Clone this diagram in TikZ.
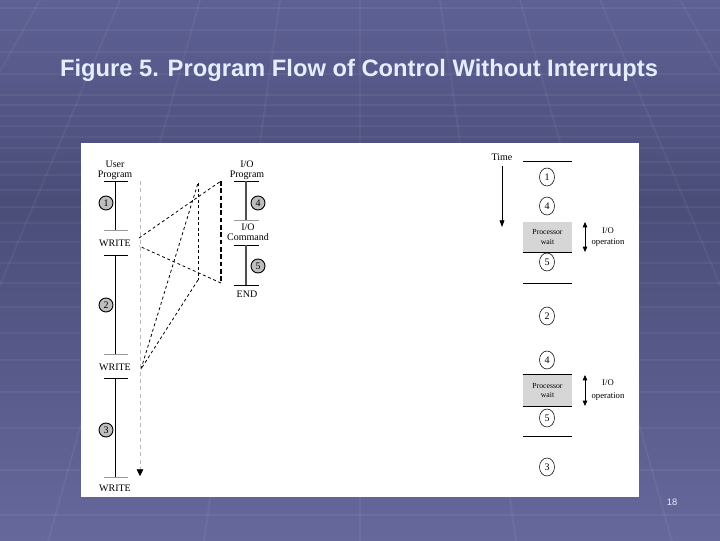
\documentclass[tikz,border=0pt]{standalone}
\usepackage{fontspec}
\setmainfont{Liberation Serif}
\newfontfamily\titlefont{Liberation Sans}
\usetikzlibrary{shapes.geometric,arrows.meta,calc}
\definecolor{bgtop}{HTML}{5E6194}
\definecolor{bgmid}{HTML}{4A4D78}
\definecolor{bgbot}{HTML}{66689C}
\definecolor{titlecol}{HTML}{E4EEFF}
\definecolor{circfill}{HTML}{BEBEBE}
\definecolor{waitfill}{HTML}{D6D6D6}
\definecolor{tickgray}{HTML}{9A9A9A}
\definecolor{iogray}{HTML}{505050}
\begin{document}
\begin{tikzpicture}[x=0.75pt,y=-0.75pt,
  lbl/.style={font=\fontsize{7.5}{7.5}\selectfont, align=center, inner sep=0pt},
  boxtext/.style={font=\fontsize{5.8}{6.8}\selectfont, align=center, inner sep=0pt},
  numc/.style={circle, draw, line width=0.7pt, fill=circfill, minimum size=10.5pt, inner sep=0pt, font=\fontsize{7.5}{7.5}\selectfont},
  tnum/.style={ellipse, draw, line width=0.4pt, minimum width=11.25pt, minimum height=13.5pt, inner sep=0pt, font=\fontsize{7.5}{7.5}\selectfont},
  tickline/.style={line width=0.6pt},
  lighttick/.style={line width=0.6pt, draw=tickgray},
  flowdash/.style={line width=0.6pt, dash pattern=on 2.2pt off 2pt},
  heavydash/.style={line width=1pt, dash pattern=on 3.5pt off 2pt},
  timeline/.style={draw=gray!55, line width=0.6pt, dash pattern=on 3pt off 2.5pt},
  waitbox/.style={fill=waitfill, minimum width=36.75pt, minimum height=22.5pt, inner sep=0pt},
  gridline/.style={white, opacity=0.05, line width=1.4pt}
]
\useasboundingbox (0,0) rectangle (720,540);
% background
\shade[top color=bgtop, bottom color=bgmid] (0,0) rectangle (720,200.5);
\shade[top color=bgmid, bottom color=bgbot] (0,200) rectangle (720,540);
\begin{scope}
\clip (0,0) rectangle (720,540);
\foreach \k in {-9,...,9}{
  \draw[gridline] (360,-570) -- ($(360,-570)!1.95!(360+80*\k,0)$);
}
\foreach \yy in {8,30,52,74,95,105,116,126,137,148,162,175,190,207,223,242,263,283,307,333,360,392,428,470,515}{
  \draw[gridline] (0,\yy) -- (720,\yy);
}
\end{scope}
% white panel
\fill[white] (81,143) rectangle (639,497);
% title
\node[font=\titlefont\bfseries\fontsize{17.8}{18}\selectfont, text=titlecol, anchor=base, inner sep=0pt] (title) at (359,76) {Figure 5. Program Flow of Control Without Interrupts};
% ---------- left: user program ----------
\node[lbl] (userprog) at (115,170) {User\\Program};
\draw[tickline] (104,181) -- (128,181);
\draw[line width=0.5pt] (115,181) -- (115,230);
\draw[lighttick] (104,230) -- (128,230);
\node[lbl] (w1) at (115,243) {WRITE};
\draw[tickline] (104,255) -- (128,255);
\draw[line width=0.5pt] (115,255) -- (115,354);
\draw[lighttick] (104,354) -- (128,354);
\node[lbl] (w2) at (115,367) {WRITE};
\draw[tickline] (104,378) -- (128,378);
\draw[line width=0.5pt] (115,378) -- (115,477);
\draw[lighttick] (104,477) -- (128,477);
\node[lbl] (w3) at (115,488) {WRITE};
\node[numc] (c1) at (106,203) {1};
\node[numc] (c2) at (106,305) {2};
\node[numc] (c3) at (106,430) {3};
% time line (gray dashed)
\coordinate (gtop) at (140,181);
\coordinate (gbot) at (140,476);
\draw[timeline, -{Triangle[length=5pt,width=5pt,color=black]}] (gtop) -- (gbot);
% ---------- I/O program ----------
\node[lbl] (ioprog) at (247,170) {I/O\\Program};
\draw[tickline] (234,181) -- (259,181);
\draw[line width=1.2pt, draw=iogray] (246,181) -- (246,220);
\draw[lighttick] (234,220) -- (259,220);
\node[lbl] (iocmd) at (248,232) {I/O\\Command};
\draw[tickline] (234,245) -- (259,245);
\draw[line width=1.2pt, draw=iogray] (246,245) -- (246,285);
\draw[tickline] (234,285) -- (259,285);
\node[lbl] (ioend) at (247,294) {END};
\node[numc] (c4) at (258,203) {4};
\node[numc] (c5) at (258,266) {5};
% ---------- flow lines ----------
\coordinate (w1a) at (139,238);
\coordinate (w1b) at (139,246);
\coordinate (p1top) at (221,181);
\coordinate (p1bot) at (221,283);
\coordinate (w2a) at (141,369);
\coordinate (p2top) at (198,183);
\coordinate (p2bot) at (198,280);
\draw[flowdash] (w1a) -- (p1top);
\draw[heavydash] (p1top) -- (p1bot);
\draw[flowdash] (p1bot) -- (w1b);
\draw[flowdash] (w2a) -- (p2top);
\draw[flowdash] (p2top) -- (p2bot);
\draw[flowdash] (p2bot) -- (w2a);
% ---------- right: time diagram ----------
\node[lbl] (time) at (502,157) {Time};
\coordinate (ttop) at (502,166);
\coordinate (tbot) at (502,227);
\draw[line width=0.6pt, -{Triangle[length=5pt,width=3.6pt]}] (ttop) -- (tbot);
\draw[tickline] (523,161) -- (572,161);
\node[tnum] (r1) at (547,177) {1};
\node[tnum] (r4a) at (547,206) {4};
\node[waitbox] (wait1) at (547.5,237) {};
\node[boxtext] (wait1t) at (wait1.center) {Processor\\wait};
\draw[tickline] (wait1.south west) -- (wait1.south east);
\coordinate (d1t) at (585,222);
\coordinate (d1b) at (585,252);
\draw[line width=0.6pt, {Triangle[length=4pt,width=3.4pt]}-{Triangle[length=4pt,width=3.4pt]}] (d1t) -- (d1b);
\node[lbl, font=\fontsize{6.5}{8.25}\selectfont] (op1) at (608,237.5) {I/O\\operation};
\node[tnum] (r5a) at (547,262) {5};
\draw[tickline] (523,283) -- (572,283);
\node[tnum] (r2) at (547,316) {2};
\node[tnum] (r4b) at (547,360) {4};
\node[waitbox, minimum height=23.25pt] (wait2) at (547.5,390.5) {};
\node[boxtext] (wait2t) at (wait2.center) {Processor\\wait};
\draw[tickline] (wait2.north west) -- (wait2.north east);
\draw[tickline] (wait2.south west) -- (wait2.south east);
\coordinate (d2t) at (585,375);
\coordinate (d2b) at (585,406);
\draw[line width=0.6pt, {Triangle[length=4pt,width=3.4pt]}-{Triangle[length=4pt,width=3.4pt]}] (d2t) -- (d2b);
\node[lbl, font=\fontsize{6.5}{9.5}\selectfont] (op2) at (608,390) {I/O\\operation};
\node[tnum] (r5b) at (547,418) {5};
\draw[tickline] (523,436) -- (572,436);
\node[tnum] (r3) at (547,467) {3};
% page number
\node[font=\titlefont\fontsize{7}{7}\selectfont, text=titlecol, inner sep=0pt] (pg) at (672,502) {18};
\end{tikzpicture}
\end{document}
